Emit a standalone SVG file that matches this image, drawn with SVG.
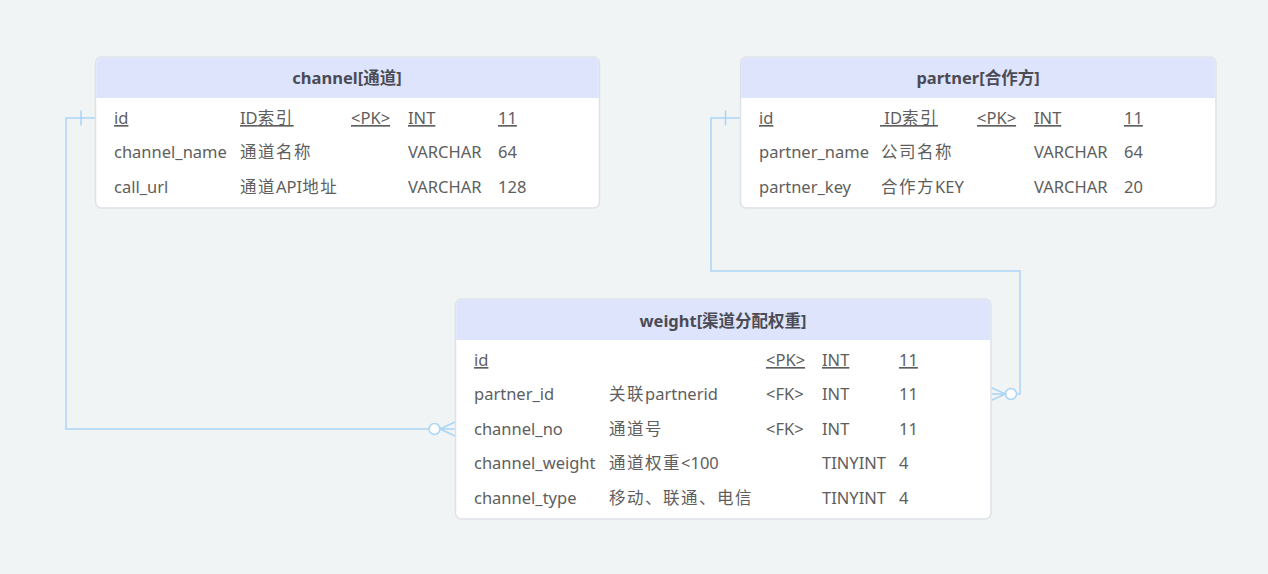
<svg xmlns="http://www.w3.org/2000/svg" width="1268" height="574" viewBox="0 0 1268 574">
<style>
.bg{fill:#f1f4f5}
.box{fill:#ffffff;stroke:#dde2e8;stroke-width:1.5}
.hdr{fill:#dde4fc}
.title{font-family:"Noto Sans","Noto Sans CJK SC",sans-serif;font-size:16.5px;font-weight:bold;fill:#4b4b55;text-anchor:middle}
.t{font-family:"Noto Sans","Noto Sans CJK SC",sans-serif;font-size:16.5px;fill:#5e5e5e}
.u{text-decoration:underline}
.c{letter-spacing:1.5px}
.ln{fill:none;stroke:#aad5f5;stroke-width:1.5}
.ci{fill:#ffffff;stroke:#aad5f5;stroke-width:1.5}
</style>
<rect class="bg" x="0" y="0" width="1268" height="574"/>

<g id="connectors">
  <path class="ln" d="M95 118 H66 V429 H429"/>
  <path class="ln" d="M81 110.5 V125.5"/>
  <circle class="ci" cx="434.5" cy="429" r="5.5"/>
  <path class="ln" d="M455 422 L440 429 L455 436 M440 429 H455"/>

  <path class="ln" d="M740 118 H711 V271 H1020 V394 H1016.5"/>
  <path class="ln" d="M725.5 110.5 V125.5"/>
  <circle class="ci" cx="1011" cy="394" r="5.5"/>
  <path class="ln" d="M991 387.5 L1005.5 394 L991 400.5 M1005.5 394 H991"/>
</g>

<g id="channel">
  <rect class="box" x="95.5" y="57" width="504" height="151" rx="6"/>
  <path class="hdr" d="M96.25 98 V63.5 a5.75 5.75 0 0 1 5.75 -5.75 H593 a5.75 5.75 0 0 1 5.75 5.75 V98 Z"/>
  <text class="title" x="347" y="84">channel[通道]</text>
  <text class="t u" x="114" y="124">id</text>
  <text class="t u" x="240" y="124">ID<tspan class="c">索引</tspan></text>
  <text class="t u" x="351" y="124">&lt;PK&gt;</text>
  <text class="t u" x="408" y="124">INT</text>
  <text class="t u" x="498" y="124">11</text>
  <text class="t" x="114" y="158">channel_name</text>
  <text class="t c" x="240" y="158">通道名称</text>
  <text class="t" x="408" y="158">VARCHAR</text>
  <text class="t" x="498" y="158">64</text>
  <text class="t" x="114" y="193">call_url</text>
  <text class="t" x="240" y="193"><tspan class="c">通道</tspan>API<tspan class="c">地址</tspan></text>
  <text class="t" x="408" y="193">VARCHAR</text>
  <text class="t" x="498" y="193">128</text>
</g>

<g id="partner">
  <rect class="box" x="740.5" y="57" width="475.5" height="151" rx="6"/>
  <path class="hdr" d="M741.25 98 V63.5 a5.75 5.75 0 0 1 5.75 -5.75 H1209.5 a5.75 5.75 0 0 1 5.75 5.75 V98 Z"/>
  <text class="title" x="978" y="84">partner[合作方]</text>
  <text class="t u" x="759" y="124">id</text>
  <text class="t u" x="880" y="124" xml:space="preserve"> ID<tspan class="c">索引</tspan></text>
  <text class="t u" x="977" y="124">&lt;PK&gt;</text>
  <text class="t u" x="1034" y="124">INT</text>
  <text class="t u" x="1124" y="124">11</text>
  <text class="t" x="759" y="158">partner_name</text>
  <text class="t c" x="881" y="158">公司名称</text>
  <text class="t" x="1034" y="158">VARCHAR</text>
  <text class="t" x="1124" y="158">64</text>
  <text class="t" x="759" y="193">partner_key</text>
  <text class="t" x="881" y="193"><tspan class="c">合作方</tspan>KEY</text>
  <text class="t" x="1034" y="193">VARCHAR</text>
  <text class="t" x="1124" y="193">20</text>
</g>

<g id="weight">
  <rect class="box" x="455.5" y="299" width="535.5" height="220" rx="6"/>
  <path class="hdr" d="M456.25 340 V305.5 a5.75 5.75 0 0 1 5.75 -5.75 H984.5 a5.75 5.75 0 0 1 5.75 5.75 V340 Z"/>
  <text class="title" x="723" y="327">weight[渠道分配权重]</text>
  <text class="t u" x="474" y="366">id</text>
  <text class="t u" x="766" y="366">&lt;PK&gt;</text>
  <text class="t u" x="822" y="366">INT</text>
  <text class="t u" x="899" y="366">11</text>
  <text class="t" x="474" y="400">partner_id</text>
  <text class="t" x="609" y="400"><tspan class="c">关联</tspan>partnerid</text>
  <text class="t" x="766" y="400">&lt;FK&gt;</text>
  <text class="t" x="822" y="400">INT</text>
  <text class="t" x="899" y="400">11</text>
  <text class="t" x="474" y="435">channel_no</text>
  <text class="t c" x="609" y="435">通道号</text>
  <text class="t" x="766" y="435">&lt;FK&gt;</text>
  <text class="t" x="822" y="435">INT</text>
  <text class="t" x="899" y="435">11</text>
  <text class="t" x="474" y="469">channel_weight</text>
  <text class="t" x="609" y="469"><tspan class="c">通道权重</tspan>&lt;100</text>
  <text class="t" x="822" y="469">TINYINT</text>
  <text class="t" x="899" y="469">4</text>
  <text class="t" x="474" y="504">channel_type</text>
  <text class="t c" x="609" y="504">移动、联通、电信</text>
  <text class="t" x="822" y="504">TINYINT</text>
  <text class="t" x="899" y="504">4</text>
</g>
</svg>
